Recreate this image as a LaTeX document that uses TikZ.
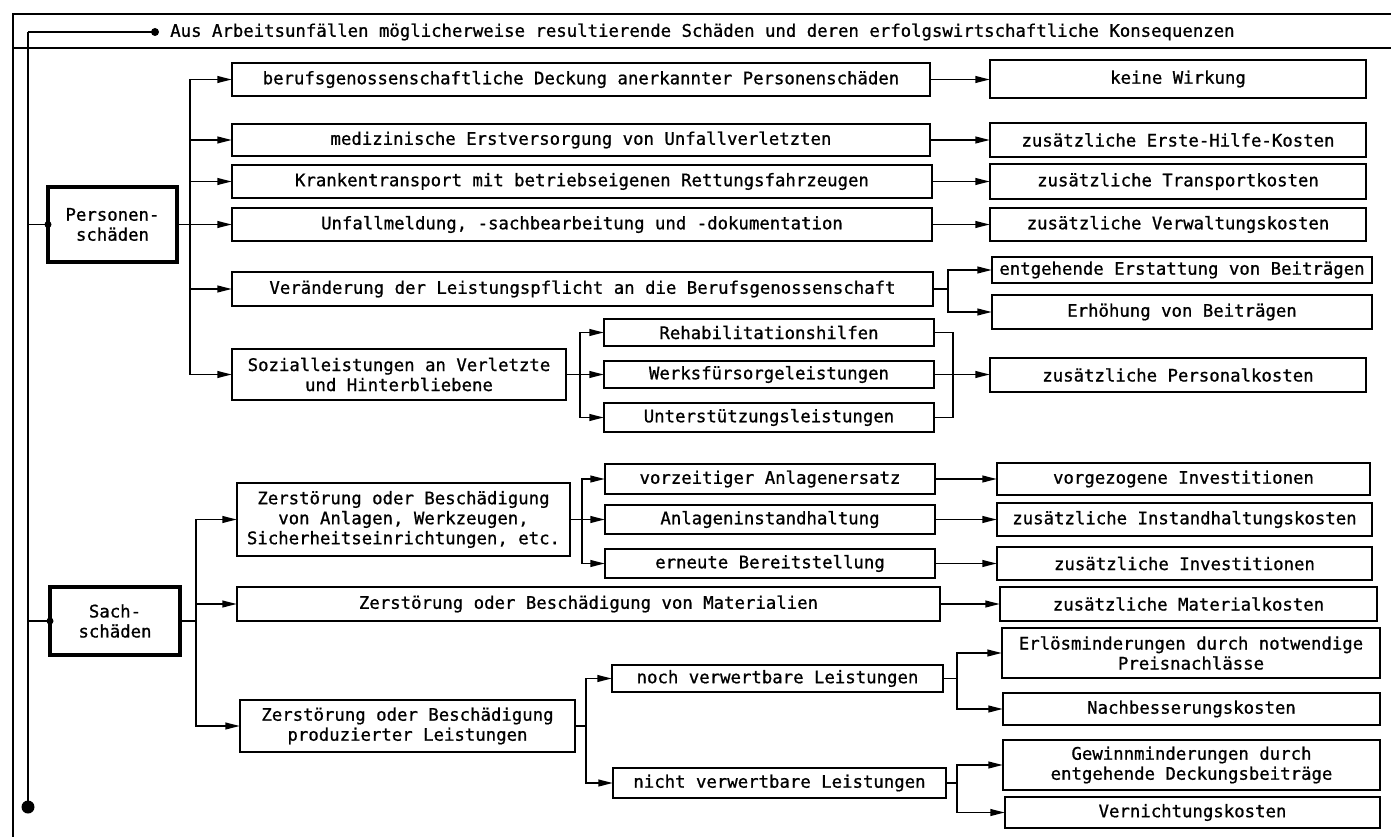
\documentclass[tikz,border=0pt]{standalone}
\usepackage{fontspec}
\newfontfamily\tw[FakeBold=0.9]{DejaVu Sans Mono}
\usetikzlibrary{arrows.meta,calc}

% box from corner (x1,y1) to corner (x2,y2), in pixel units, y downward
\newcommand\mkbox[7][]{%
  \node[box,#1,minimum width={(#5-#3)*0.75pt},minimum height={(#6-#4)*0.75pt}]
    (#2) at ({(#3+#5)/2},{(#4+#6)/2}) {#7};}

\tikzset{
  box/.style={draw, line width=1.6pt, inner sep=0pt, outer sep=0pt, align=center,
              font=\tw\fontsize{13}{15}\selectfont},
  mainbox/.style={line width=3.2pt},
  ln/.style={line width=1.4pt},
  arr/.style={ln, -{Triangle[length=11pt,width=5pt]}},
  frame/.style={line width=1.8pt},
}

\begin{document}
\begin{tikzpicture}[x=0.75pt,y=-0.75pt]
\useasboundingbox[fill=white] (0,0) rectangle (1391,837);

% outer frame and header band
\draw[frame] (1391,14) -- (13,14) -- (13,837);
\draw[frame] (13,48) -- (1391,48);

% spine with header line
\coordinate (top) at (28,32);
\coordinate (hdot) at (155,32);
\coordinate (bot) at (28,807);
\draw[ln, line width=2pt] (top) -- (hdot);
\draw[ln, line width=2pt] (top) -- (bot);
\fill (hdot) circle[radius=4];
\fill (bot) circle[radius=6.5];
\node[anchor=west, font=\tw\fontsize{13}{15}\selectfont, inner sep=0pt] (title) at (170,32)
  {Aus Arbeitsunfällen möglicherweise resultierende Schäden und deren erfolgswirtschaftliche Konsequenzen};

% ---------------- Personenschäden ----------------
\mkbox[mainbox]{P}{48}{187}{177}{262}{Personen-\\schäden}
\draw[ln] (P.west -| top) -- (P.west);
\fill (P.west) circle[radius=3.5];

\mkbox{p1}{232}{63}{930}{96}{berufsgenossenschaftliche Deckung anerkannter Personenschäden}
\mkbox{p2}{232}{124}{930}{156}{medizinische Erstversorgung von Unfallverletzten}
\mkbox{p3}{232}{165}{932}{198}{Krankentransport mit betriebseigenen Rettungsfahrzeugen}
\mkbox{p4}{232}{208}{932}{241}{Unfallmeldung, -sachbearbeitung und -dokumentation}
\mkbox{p5}{232}{272}{933}{306}{Veränderung der Leistungspflicht an die Berufsgenossenschaft}
\mkbox{p6}{232}{349}{566}{400}{Sozialleistungen an Verletzte\\und Hinterbliebene}

\mkbox{r1}{990}{60}{1366}{98}{keine Wirkung}
\mkbox{r2}{990}{123}{1366}{157}{zusätzliche Erste-Hilfe-Kosten}
\mkbox{r3}{990}{164}{1366}{199}{zusätzliche Transportkosten}
\mkbox{r4}{990}{208}{1366}{241}{zusätzliche Verwaltungskosten}
\mkbox{r5a}{992}{257}{1372}{283}{entgehende Erstattung von Beiträgen}
\mkbox{r5b}{992}{295}{1372}{329}{Erhöhung von Beiträgen}

\mkbox{s1}{604}{319}{934}{346}{Rehabilitationshilfen}
\mkbox{s2}{604}{361}{934}{388}{Werksfürsorgeleistungen}
\mkbox{s3}{604}{403}{934}{432}{Unterstützungsleistungen}
\mkbox{r6}{990}{358}{1366}{392}{zusätzliche Personalkosten}

\coordinate (jP) at ($(P.east)+(13,0)$);
\draw[ln] (P.east) -- (jP);
\draw[arr] (jP) |- (p1.west);
\draw[arr] (jP) |- (p2.west);
\draw[arr] (jP) |- (p3.west);
\draw[arr] (jP) |- (p4.west);
\draw[arr] (jP) |- (p5.west);
\draw[arr] (jP) |- (p6.west);

\draw[arr] (p1.east) -- (p1.east -| r1.west);
\draw[arr] (p2.east) -- (p2.east -| r2.west);
\draw[arr] (p3.east) -- (p3.east -| r3.west);
\draw[arr] (p4.east) -- (p4.east -| r4.west);

\coordinate (j5) at ($(p5.east)+(15,0)$);
\draw[ln] (p5.east) -- (j5);
\draw[arr] (j5) |- (r5a.west);
\draw[arr] (j5) |- (r5b.west);

\coordinate (j6) at ($(p6.east)+(14,0)$);
\draw[ln] (p6.east) -- (j6);
\draw[arr] (j6) |- (s1.west);
\draw[arr] (j6) |- (s2.west);
\draw[arr] (j6) |- (s3.west);

\coordinate (m6) at ($(s2.east)+(19,0)$);
\draw[ln] (s1.east) -| (m6) |- (s3.east);
\draw[arr] (s2.east) -- (s2.east -| r6.west);

% ---------------- Sachschäden ----------------
\mkbox[mainbox]{S}{50}{587}{180}{655}{Sach-\\schäden}
\draw[ln] (S.west -| top) -- (S.west);
\fill (S.west) circle[radius=3.5];

\mkbox{q1}{237}{483}{570}{556}{Zerstörung oder Beschädigung\\von Anlagen, Werkzeugen,\\Sicherheitseinrichtungen, etc.}
\mkbox{q2}{237}{587}{940}{621}{Zerstörung oder Beschädigung von Materialien}
\mkbox{q3}{240}{700}{575}{752}{Zerstörung oder Beschädigung\\produzierter Leistungen}

\mkbox{t1}{605}{464}{935}{494}{vorzeitiger Anlagenersatz}
\mkbox{t2}{605}{505}{935}{534}{Anlageninstandhaltung}
\mkbox{t3}{605}{549}{935}{578}{erneute Bereitstellung}

\mkbox{u1}{997}{463}{1370}{495}{vorgezogene Investitionen}
\mkbox{u2}{997}{503}{1372}{536}{zusätzliche Instandhaltungskosten}
\mkbox{u3}{997}{547}{1372}{580}{zusätzliche Investitionen}
\mkbox{u4}{1000}{587}{1377}{621}{zusätzliche Materialkosten}

\mkbox{v1}{612}{665}{943}{692}{noch verwertbare Leistungen}
\mkbox{v2}{613}{768}{946}{798}{nicht verwertbare Leistungen}

\mkbox{w1}{1002}{628}{1380}{678}{Erlösminderungen durch notwendige\\Preisnachlässe}
\mkbox{w2}{1003}{693}{1380}{725}{Nachbesserungskosten}
\mkbox{w3}{1003}{740}{1380}{790}{Gewinnminderungen durch\\entgehende Deckungsbeiträge}
\mkbox{w4}{1005}{797}{1380}{828}{Vernichtungskosten}

\coordinate (jS) at ($(S.east)+(16,0)$);
\draw[ln] (S.east) -- (jS);
\draw[arr] (jS) |- (q1.west);
\draw[arr] (jS) |- (q2.west);
\draw[arr] (jS) |- (q3.west);

\coordinate (jq1) at ($(q1.east)+(12,0)$);
\draw[ln] (q1.east) -- (jq1);
\draw[arr] (jq1) |- (t1.west);
\draw[arr] (jq1) |- (t2.west);
\draw[arr] (jq1) |- (t3.west);

\draw[arr] (t1.east) -- (t1.east -| u1.west);
\draw[arr] (t2.east) -- (t2.east -| u2.west);
\draw[arr] (t3.east) -- (t3.east -| u3.west);
\draw[arr] (q2.east) -- (q2.east -| u4.west);

\coordinate (jq3) at ($(q3.east)+(11,0)$);
\draw[ln] (q3.east) -- (jq3);
\draw[arr] (jq3) |- (v1.west);
\draw[arr] (jq3) |- (v2.west);

\coordinate (jv1) at ($(v1.east)+(14,0)$);
\draw[ln] (v1.east) -- (jv1);
\draw[arr] (jv1) |- (w1.west);
\draw[arr] (jv1) |- (w2.west);

\coordinate (jv2) at ($(v2.east)+(11,0)$);
\draw[ln] (v2.east) -- (jv2);
\draw[arr] (jv2) |- (w3.west);
\draw[arr] (jv2) |- (w4.west);

\end{tikzpicture}
\end{document}
